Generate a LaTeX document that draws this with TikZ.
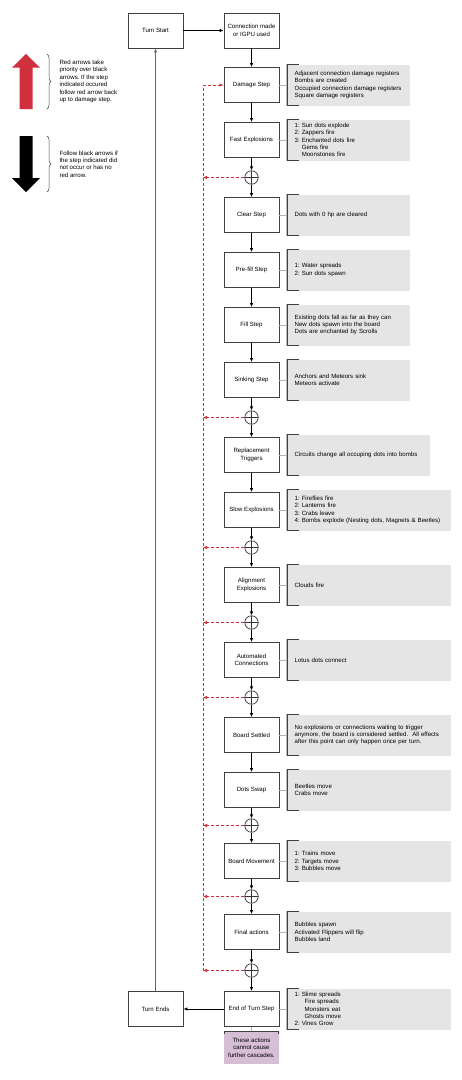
\documentclass[tikz,border=0pt]{standalone}
\usepackage{fontspec}
\setmainfont{Liberation Sans}
\usetikzlibrary{arrows.meta,calc,positioning,decorations.pathreplacing}
\definecolor{alertred}{RGB}{208,48,62}
\definecolor{notegray}{RGB}{229,229,229}
\definecolor{lilac}{RGB}{214,190,214}

\begin{document}
\begin{tikzpicture}[
        x=1pt, y=-1pt,
        every node/.style={font=\fontsize{6.1}{7.4}\selectfont\frenchspacing},
        stepbox/.style={
            draw=black!75,
            line width=0.9pt,
            minimum width=55pt,
            minimum height=35pt,
            inner sep=2pt,
            align=center
        },
        note/.style={
            fill=notegray,
            text width=#1,
            inner xsep=8pt,
            minimum height=41pt,
            align=left,
            path picture={
                \draw[black!75, line width=1.8pt]
                    ([xshift=12pt]path picture bounding box.north west)
                    -| (path picture bounding box.south west) -- ++(12pt,0);
            }
        },
        note/.default=107pt,
        aside/.style={
            fill=lilac,
            minimum width=55pt,
            minimum height=33pt,
            inner sep=1pt,
            align=center,
            path picture={
                \draw[black!75, line width=1.8pt]
                    ([yshift=-3pt]path picture bounding box.north west)
                    |- (path picture bounding box.north east) -- ++(0,-3pt);
            }
        },
        merge/.style={
            circle,
            draw=black!80,
            line width=0.7pt,
            minimum size=13.5pt,
            inner sep=0pt,
            path picture={
                \draw[black!80, line width=0.7pt]
                    (path picture bounding box.north) -- (path picture bounding box.south)
                    (path picture bounding box.west) -- (path picture bounding box.east);
            }
        },
        arrow/.style={-{Latex[length=4pt, width=3.5pt]}, line width=0.8pt},
        back/.style={-{Latex[length=4pt, width=3.5pt]}, alertred, dash pattern=on 3pt off 2pt, line width=0.6pt},
        link/.style={black!30, line width=0.8pt},
        brace/.style={decorate, decoration={brace, amplitude=4pt}, black!75, line width=0.5pt}
    ]
    \useasboundingbox (0,0) rectangle (462,1080);

    % =========================
    % Legend
    % =========================
    \fill[alertred] (19.5,109) -- (19.5,67.7) -- (12,67.7) -- (26,54) -- (40,67.7) -- (32.5,67.7) -- (32.5,109) -- cycle;
    \draw[brace] (47,54) -- (47,109);
    \node[anchor=west, align=left] (redtext) at (56,81.5) {Red arrows take\\priority over black\\arrows. If the step\\indicated occured\\follow red arrow back\\up to damage step.};

    \fill[black] (19.5,136) -- (19.5,178) -- (12,178) -- (26,192) -- (40,178) -- (32.5,178) -- (32.5,136) -- cycle;
    \draw[brace] (47,136) -- (47,192);
    \node[anchor=west, align=left] (blacktext) at (56,164) {Follow black arrows if\\the step indicated did\\not occur or has no\\red arrow.};

    % =========================
    % Steps
    % =========================
    \node[stepbox] (start) at (155.5,30.5) {Turn Start};
    \node[stepbox] (conn) at (251.5,30.5) {Connection made\\or IGPU used};
    \node[stepbox] (damage) at (251.5,85) {Damage Step};
    \node[stepbox] (fast) at (251.5,140) {Fast Explosions};
    \node[stepbox] (clear) at (251.5,215) {Clear Step};
    \node[stepbox] (prefill) at (251.5,270) {Pre-fill Step};
    \node[stepbox] (fill) at (251.5,325) {Fill Step};
    \node[stepbox] (sink) at (251.5,380) {Sinking Step};
    \node[stepbox] (repl) at (251.5,455) {Replacement\\Triggers};
    \node[stepbox] (slow) at (251.5,510) {Slow Explosions};
    \node[stepbox] (alignexp) at (251.5,585) {Alignment\\Explosions};
    \node[stepbox] (auto) at (251.5,660) {Automated\\Connections};
    \node[stepbox] (settled) at (251.5,735) {Board Settled};
    \node[stepbox] (swap) at (251.5,790) {Dots Swap};
    \node[stepbox] (move) at (251.5,861) {Board Movement};
    \node[stepbox] (final) at (251.5,932) {Final actions};
    \node[stepbox] (eot) at (251.5,1009) {End of Turn Step};
    \node[stepbox] (ends) at (155.5,1009) {Turn Ends};

    % cascade checks between steps
    \node[merge] (j1) at ($(fast.south)!0.5!(clear.north)$) {};
    \node[merge] (j2) at ($(sink.south)!0.5!(repl.north)$) {};
    \node[merge] (j3) at ($(slow.south)!0.5!(alignexp.north)$) {};
    \node[merge] (j4) at ($(alignexp.south)!0.5!(auto.north)$) {};
    \node[merge] (j5) at ($(auto.south)!0.5!(settled.north)$) {};
    \node[merge] (j6) at ($(swap.south)!0.5!(move.north)$) {};
    \node[merge] (j7) at ($(move.south)!0.5!(final.north)$) {};
    \node[merge] (j8) at ($(final.south)!0.5!(eot.north)$) {};

    % =========================
    % Notes
    % =========================
    \node[note, right=7pt of damage] (ndamage) {Adjacent connection damage registers\\Bombs are created\\Occupied connection damage registers\\Square damage registers};
    \node[note, right=7pt of fast] (nfast) {1: Sun dots explode\\2: Zappers fire\\3: Enchanted dots fire\\\phantom{3: }Gems fire\\\phantom{3: }Moonstones fire};
    \node[note, right=7pt of clear] (nclear) {Dots with 0 hp are cleared};
    \node[note, right=7pt of prefill] (nprefill) {1: Water spreads\\2: Sun dots spawn};
    \node[note, right=7pt of fill] (nfill) {Existing dots fall as far as they can\\New dots spawn into the board\\Dots are enchanted by Scrolls};
    \node[note, right=7pt of sink] (nsink) {Anchors and Meteors sink\\Meteors activate};
    \node[note=127pt, right=7pt of repl] (nrepl) {Circuits change all occuping dots into bombs};
    \node[note=148pt, right=7pt of slow] (nslow) {1: Fireflies fire\\2: Lanterns fire\\3: Crabs leave\\\mbox{4: Bombs explode (Nesting dots, Magnets \& Beetles)}};
    \node[note=148pt, right=7pt of alignexp] (nalignexp) {Clouds fire};
    \node[note=148pt, right=7pt of auto] (nauto) {Lotus dots connect};
    \node[note=148pt, right=7pt of settled] (nsettled) {No explosions or connections waiting to trigger\\\mbox{anymore, the board is considered settled.\ \ All effects}\\after this point can only happen once per turn.};
    \node[note=148pt, right=7pt of swap] (nswap) {Beetles move\\Crabs move};
    \node[note=148pt, right=7pt of move] (nmove) {1: Trains move\\2: Targets move\\3: Bubbles move};
    \node[note=148pt, right=7pt of final] (nfinal) {Bubbles spawn\\Activated Flippers will flip\\Bubbles land};
    \node[note=148pt, right=7pt of eot] (neot) {1: Slime spreads\\\hspace*{10pt}Fire spreads\\\hspace*{10pt}Monsters eat\\\hspace*{10pt}Ghosts move\\2: Vines Grow};
    \node[aside, below=4pt of eot] (caveat) {These actions\\cannot cause\\further cascades.};

    \foreach \s in {damage,fast,clear,prefill,fill,sink,repl,slow,alignexp,auto,settled,swap,move,final,eot}
        \draw[link] (\s) -- (n\s);
    \draw[link] (eot) -- (caveat);

    % =========================
    % Flow
    % =========================
    \draw[arrow] (start) -- (conn);
    \foreach \a/\b in {conn/damage, damage/fast, fast/j1, j1/clear, clear/prefill, prefill/fill,
        fill/sink, sink/j2, j2/repl, repl/slow, slow/j3, j3/alignexp, alignexp/j4, j4/auto,
        auto/j5, j5/settled, settled/swap, swap/j6, j6/move, move/j7, j7/final, final/j8, j8/eot}
        \draw[arrow] (\a) -- (\b);
    \draw[arrow] (eot) -- (ends);
    \draw[arrow, black!60, line width=0.9pt] (ends) -- (start);

    % Red return paths
    \coordinate (rail) at (203,0);
    \foreach \j in {j1,j2,j3,j4,j5,j6,j7,j8}
        \draw[back] (\j) -- (\j -| rail);
    \draw[back] (j8 -| rail) |- (damage);

\end{tikzpicture}
\end{document}
